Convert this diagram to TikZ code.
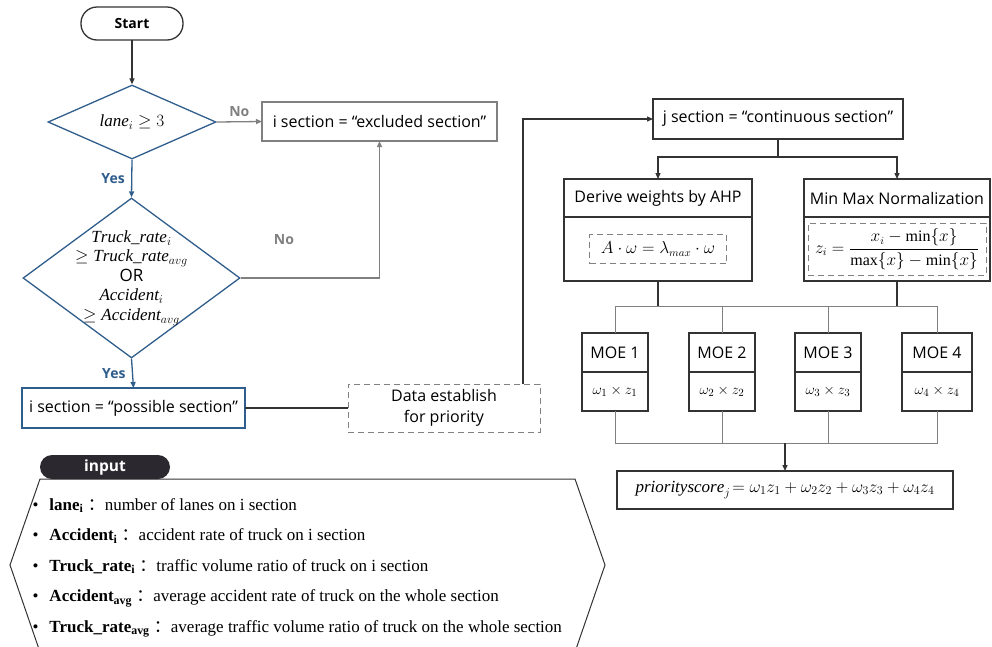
\documentclass[tikz,border=0pt]{standalone}
\usepackage{amsmath}
\usepackage{fontspec}
\setmainfont{Liberation Serif}
\setsansfont{Open Sans}
\newfontfamily\cjkfont{Noto Sans CJK SC}
\usetikzlibrary{arrows.meta,shapes.geometric,positioning}
\tikzset{>={Triangle[length=6pt,width=5pt]}}
\definecolor{flowblue}{HTML}{2F5D8C}
\definecolor{flowgray}{HTML}{808080}
\definecolor{flowdark}{HTML}{333333}
\definecolor{pilldark}{HTML}{2B2830}
\newcommand{\ssize}{\fontsize{16}{21}\selectfont}

\begin{document}
\begin{tikzpicture}[x=1pt,y=-1pt]
\tikzset{
  box/.style={
    draw=flowdark,
    line width=1.3pt,
    outer sep=0pt,
    inner sep=0pt,
    align=center,
    font=\sffamily\ssize
  },
  decision/.style={
    diamond,
    draw=flowblue,
    line width=1.3pt,
    inner sep=0pt
  },
  condtext/.style={align=center, font=\fontsize{17}{19.5}\selectfont},
  dashbox/.style={dash pattern=on 6pt off 4pt},
  innereq/.style={draw=flowgray, dashbox, line width=1pt, inner sep=0pt},
  moebox/.style={box, minimum width=66, minimum height=39},
  yeslab/.style={text=flowblue, font=\sffamily\bfseries\fontsize{14}{16}\selectfont},
  nolab/.style={text=flowgray, font=\sffamily\bfseries\fontsize{14}{16}\selectfont},
  link/.style={draw=flowdark, line width=1.3pt},
  bus/.style={draw=flowgray, line width=1pt}
}
\useasboundingbox (0,0) rectangle (992,646);

% left column
\node[box, rounded corners=16pt, minimum width=102, minimum height=33,
      font=\sffamily\bfseries\fontsize{14}{16}\selectfont] (start) at (132,23.5) {Start};
\node[decision, minimum width=168, minimum height=74] (lane) at (132,122) {};
\node[condtext] (lanetxt) at (lane) {$\mathit{lane}_i \geq 3$};
\node[box, draw=flowgray, minimum width=235, minimum height=39] (excl) at (379.5,121.5)
  {i section = “excluded section”};
\node[decision, minimum width=217, minimum height=160] (cond) at (131.5,278) {};
\node[condtext] (condtxt) at (cond)
  {$\mathit{Truck\_rate}_i$\\ $\geq \mathit{Truck\_rate}_{avg}$\\ \sffamily OR\\
   $\mathit{Accident}_i$\\ $\geq \mathit{Accident}_{avg}$};
\node[nolab] (no2) at (284,240) {No};
\node[box, draw=flowgray, dashbox, line width=1pt, minimum width=192, minimum height=48]
  (data) at (444,408) {Data establish\\for priority};
\node[box, draw=flowblue, minimum width=223, minimum height=40] (poss) at (133.5,408)
  {i section = “possible section”};

\draw[link, ->] (start) -- (lane.north);
\draw[bus, ->, line width=1.3pt] (lane.east) -- (excl.west) node[nolab, midway, above=1pt] (no1) {No};
\draw[link, draw=flowblue, ->] (lane.south) -- (cond.north) node[yeslab, midway, left=3pt] (yes1) {Yes};
\draw[bus, ->, line width=1.3pt] (cond.east) -| (excl.south);
\draw[link, draw=flowblue, ->] (cond.south) -- (poss.north) node[yeslab, midway, left=3pt] (yes2) {Yes};
\draw[link] (poss.east) -- (data.west);

% right column
\node[box, minimum width=250, minimum height=40] (cont) at (778,119)
  {j section = “continuous section”};
\node[box, minimum width=188, minimum height=38] (ahp) at (658,198) {Derive weights by AHP};
\node[box, minimum width=188, minimum height=64, below=0pt of ahp] (ahpbody) {};
\node[innereq, minimum width=137, minimum height=29, font=\fontsize{16}{18}\selectfont]
  (ahpeq) at (ahpbody) {$A\cdot\omega = \lambda_{max}\cdot\omega$};
\node[box, minimum width=186, minimum height=38] (minmax) at (897,198) {Min Max Normalization};
\node[box, minimum width=186, minimum height=64, below=0pt of minmax] (minmaxbody) {};
\node[innereq, minimum width=178, minimum height=52, font=\fontsize{16}{18}\selectfont]
  (minmaxeq) at (minmaxbody) {$z_i = \dfrac{x_i - \min\{x\}}{\max\{x\} - \min\{x\}}$};

\draw[link, ->] ([xshift=-17pt]data.north east) |- (cont.west);
\draw[link] (cont.south) -- ++(0,18) coordinate (fork);
\draw[link, ->] (fork) -| (ahp.north);
\draw[link, ->] (fork) -| (minmax.north);

% MOE boxes
\node[moebox] (moe1) at (615,352.5) {MOE 1};
\node[moebox] (moe2) at (722,352.5) {MOE 2};
\node[moebox] (moe3) at (828,352.5) {MOE 3};
\node[moebox, minimum width=70] (moe4) at (937,352.5) {MOE 4};
\node[moebox, below=0pt of moe1, font=\fontsize{15}{17}\selectfont] (w1) {$\omega_1\times z_1$};
\node[moebox, below=0pt of moe2, font=\fontsize{15}{17}\selectfont] (w2) {$\omega_2\times z_2$};
\node[moebox, below=0pt of moe3, font=\fontsize{15}{17}\selectfont] (w3) {$\omega_3\times z_3$};
\node[moebox, minimum width=70, below=0pt of moe4, font=\fontsize{15}{17}\selectfont] (w4) {$\omega_4\times z_4$};

\draw[bus] (moe1.north) -- ++(0,-27) coordinate (topbus) -| (moe4.north);
\draw[bus] (moe2.north) -- (moe2.north |- topbus);
\draw[bus] (moe3.north) -- (moe3.north |- topbus);
\draw[link] (ahpbody.south) -- (ahpbody.south |- topbus);
\draw[link] (minmaxbody.south) -- (minmaxbody.south |- topbus);

\node[box, minimum width=336, minimum height=38, font=\fontsize{17}{19}\selectfont] (score) at (785,490)
  {$\mathit{priorityscore}_j\!= \omega_1 z_1 + \omega_2 z_2 + \omega_3 z_3 + \omega_4 z_4$};
\draw[bus] (w1.south) -- ++(0,32) coordinate (sumbus) -| (w4.south);
\draw[bus] (w2.south) -- (w2.south |- sumbus);
\draw[bus] (w3.south) -- (w3.south |- sumbus);
\draw[link, ->] (score.north |- sumbus) -- (score.north);

% input panel
\draw[flowdark, line width=1pt] (40,652) -- (10,565) -- (40,479) -- (575,479) -- (605,565) -- (575,652);
\node[fill=pilldark, rounded corners=12pt, minimum width=130, minimum height=24, inner sep=0pt,
      text=white, font=\sffamily\bfseries\fontsize{15.5}{17}\selectfont] (inputtag) at (105,467) {input};
\node[anchor=west, align=left, font=\fontsize{17}{30.5}\selectfont] (inputlist) at (29,568)
  {•\hspace{11pt}\textbf{lane\textsubscript{i}} {\cjkfont ：}number of lanes on i section\\
   •\hspace{11pt}\textbf{Accident\textsubscript{i}} {\cjkfont ：}accident rate of truck on i section\\
   •\hspace{11pt}\textbf{Truck\_rate\textsubscript{i}} {\cjkfont ：}traffic volume ratio of truck on i section\\
   •\hspace{11pt}\textbf{Accident\textsubscript{avg}} {\cjkfont ：}average accident rate of truck on the whole section\\
   •\hspace{11pt}\textbf{Truck\_rate\textsubscript{avg}} {\cjkfont ：}average traffic volume ratio of truck on the whole section};
\end{tikzpicture}
\end{document}
